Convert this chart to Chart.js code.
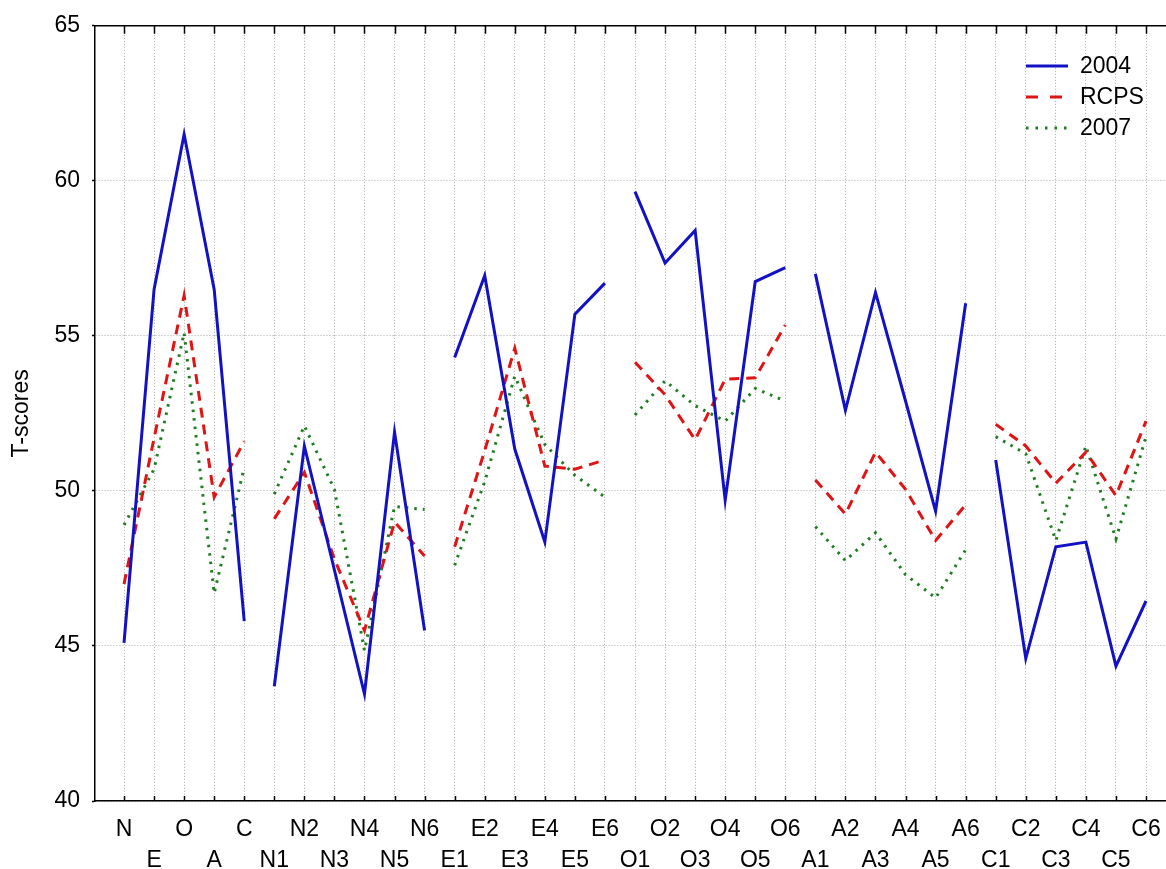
<!DOCTYPE html>
<html>
<head>
<meta charset="utf-8">
<script src="https://cdn.jsdelivr.net/npm/chart.js@4/dist/chart.umd.min.js"></script>
<style>
  html, body { margin: 0; padding: 0; background: #fff; }
  #wrap { width: 1166px; height: 869px; }
</style>
</head>
<body>
<div id="wrap"><canvas id="scoresChart"></canvas></div>
<script>
const categories = ['N', 'E', 'O', 'A', 'C',
  'N1', 'N2', 'N3', 'N4', 'N5', 'N6',
  'E1', 'E2', 'E3', 'E4', 'E5', 'E6',
  'O1', 'O2', 'O3', 'O4', 'O5', 'O6',
  'A1', 'A2', 'A3', 'A4', 'A5', 'A6',
  'C1', 'C2', 'C3', 'C4', 'C5', 'C6'];

// last index of each group; no line is drawn from it to the next point
const groupEnds = [4, 10, 16, 22, 28];

const scores2004 = [45.1, 56.5, 61.5, 56.5, 45.8,
  43.7, 51.45, 47.45, 43.45, 51.9, 45.5,
  54.3, 56.95, 51.35, 48.35, 55.7, 56.7,
  59.65, 57.35, 58.4, 49.7, 56.75, 57.2,
  57.0, 52.6, 56.4, 52.9, 49.35, 56.05,
  51.0, 44.6, 48.2, 48.35, 44.35, 46.45];

const scoresRCPS = [47.0, 51.7, 56.3, 49.8, 51.6,
  49.1, 50.6, 47.8, 45.5, 49.0, 47.9,
  48.2, 51.3, 54.6, 50.8, 50.7, 51.0,
  54.15, 53.1, 51.65, 53.6, 53.65, 55.35,
  50.35, 49.25, 51.25, 50.05, 48.4, 49.55,
  52.15, 51.45, 50.25, 51.25, 49.85, 52.25];

const scores2007 = [48.9, 50.7, 55.1, 46.7, 50.75,
  49.9, 52.1, 50.05, 44.85, 49.5, 49.4,
  47.6, 50.3, 53.7, 51.5, 50.5, 49.8,
  52.45, 53.55, 52.75, 52.25, 53.3, 52.9,
  48.85, 47.75, 48.65, 47.3, 46.55, 48.1,
  51.75, 51.2, 48.4, 51.45, 48.45, 51.75];

const yTicks = [40, 45, 50, 55, 60, 65];

const FONT = { family: '"Liberation Sans", Arial, sans-serif', size: 23 };

function toPoints(values) {
  return values.map((v, i) => ({ x: i, y: v }));
}

function makeSeries(label, values, color, width, dash) {
  return {
    label: label,
    data: toPoints(values),
    borderColor: color,
    borderWidth: width,
    borderDash: dash,
    pointRadius: 0,
    tension: 0,
    fill: false,
    segment: {
      borderColor: ctx => groupEnds.includes(ctx.p0DataIndex) ? 'rgba(0,0,0,0)' : color
    }
  };
}

// top frame line plus the short inward tick marks on top and bottom
const frameTicks = {
  id: 'frameTicks',
  afterDatasetsDraw(chart) {
    const { ctx, chartArea: a, scales: { x } } = chart;
    ctx.save();
    ctx.strokeStyle = '#000';
    ctx.lineWidth = 1.5;
    ctx.beginPath();
    ctx.moveTo(a.left, a.top);
    ctx.lineTo(a.right, a.top);
    categories.forEach((c, i) => {
      const px = Math.round(x.getPixelForValue(i)) + 0.5;
      ctx.moveTo(px, a.top);
      ctx.lineTo(px, a.top + 8);
      ctx.moveTo(px, a.bottom);
      ctx.lineTo(px, a.bottom - 5);
    });
    ctx.stroke();
    ctx.restore();
  }
};

// legend box in the upper right of the plot
const cornerLegend = {
  id: 'cornerLegend',
  afterDraw(chart) {
    const { ctx } = chart;
    ctx.save();
    ctx.font = FONT.size + 'px ' + FONT.family;
    ctx.textBaseline = 'middle';
    ctx.textAlign = 'left';
    chart.data.datasets.forEach((ds, i) => {
      const y = 66 + i * 31;
      ctx.strokeStyle = ds.borderColor;
      ctx.lineWidth = ds.borderWidth;
      ctx.setLineDash(ds.legendDash || []);
      ctx.beginPath();
      ctx.moveTo(1026, y);
      ctx.lineTo(1068, y);
      ctx.stroke();
      ctx.setLineDash([]);
      ctx.fillStyle = '#000';
      ctx.fillText(ds.label, 1080, y + 1);
    });
    ctx.restore();
  }
};

const s2004 = makeSeries('2004', scores2004, '#1212c4', 3, []);
const sRCPS = makeSeries('RCPS', scoresRCPS, '#e01414', 3, [10, 7]);
sRCPS.legendDash = [12, 12];
const s2007 = makeSeries('2007', scores2007, '#1f7d1f', 3, [2.5, 6]);
s2007.legendDash = [2.5, 7];

new Chart(document.getElementById('scoresChart'), {
  type: 'line',
  data: { datasets: [s2004, sRCPS, s2007] },
  options: {
    responsive: true,
    maintainAspectRatio: false,
    animation: false,
    layout: { padding: { top: 23, right: 0, bottom: 0, left: 0 } },
    plugins: {
      legend: { display: false },
      tooltip: { enabled: false }
    },
    scales: {
      x: {
        type: 'linear',
        min: -0.965,
        max: 34.665,
        afterFit: scale => { scale.height = 68; },
        ticks: {
          stepSize: 1,
          includeBounds: false,
          autoSkip: false,
          maxRotation: 0,
          maxTicksLimit: 60,
          padding: 0,
          color: '#000',
          font: Object.assign({ lineHeight: '31px' }, FONT),
          callback: v => {
            const name = categories[v];
            if (name === undefined) return '';
            return v % 2 === 0 ? [name, ''] : ['', name];
          }
        },
        grid: {
          color: '#a8a8a8',
          lineWidth: 1,
          drawTicks: true,
          tickLength: 13,
          tickColor: 'rgba(0,0,0,0)'
        },
        border: { display: true, color: '#000', width: 1.5, dash: [1, 2] }
      },
      y: {
        min: 40,
        max: 65,
        afterFit: scale => { scale.width = 95; },
        afterBuildTicks: scale => { scale.ticks = yTicks.map(v => ({ value: v })); },
        ticks: {
          padding: 12,
          color: '#000',
          font: FONT
        },
        grid: {
          color: '#a8a8a8',
          lineWidth: 1,
          tickLength: 3,
          tickColor: '#000',
          tickWidth: 1.5
        },
        border: { display: true, color: '#000', width: 1.5, dash: [1, 2] },
        title: {
          display: true,
          text: 'T-scores',
          color: '#000',
          font: FONT,
          padding: { top: 8, bottom: 0 }
        }
      }
    }
  },
  plugins: [frameTicks, cornerLegend]
});
</script>
</body>
</html>
